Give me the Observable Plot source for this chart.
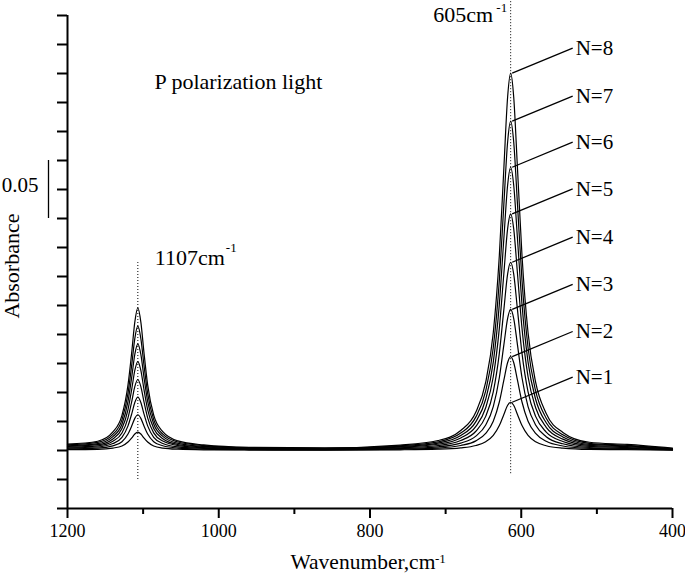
<!DOCTYPE html>
<html><head><meta charset="utf-8">
<script src="https://cdn.jsdelivr.net/npm/d3@7"></script>
<script src="https://cdn.jsdelivr.net/npm/@observablehq/plot@0.6"></script>
<style>
html,body{margin:0;padding:0;background:#fff;}
#chart svg{display:block;}
#chart svg, #chart svg text{font-family:"Liberation Serif","Times New Roman",serif !important;}
</style>
</head><body><div id="chart"></div>
<script>
// Wavenumber grid (cm-1) shared by all spectra
const wavenumbers = [1200, 1160, 1140, 1128, 1120, 1115, 1111, 1107, 1103, 1099, 1094, 1086, 1074, 1054, 1020, 960, 860, 760, 710, 680, 660, 647, 637, 629, 623, 618, 614, 610, 605, 599, 591, 581, 567, 545, 510, 460, 400];
const seriesNames = ["N=1", "N=2", "N=3", "N=4", "N=5", "N=6", "N=7", "N=8"];
// Absorbance values
const absN1 = [0.0007, 0.0010, 0.0021, 0.0039, 0.0073, 0.0109, 0.0142, 0.0158, 0.0142, 0.0109, 0.0073, 0.0039, 0.0021, 0.0011, 0.0006, 0.0004, 0.0003, 0.0006, 0.0011, 0.0022, 0.0043, 0.0076, 0.0130, 0.0215, 0.0311, 0.0390, 0.0416, 0.0390, 0.0311, 0.0215, 0.0130, 0.0075, 0.0041, 0.0020, 0.0009, 0.0007, 0.0002];
const absN2 = [0.0014, 0.0020, 0.0040, 0.0076, 0.0142, 0.0213, 0.0277, 0.0308, 0.0277, 0.0213, 0.0142, 0.0076, 0.0041, 0.0021, 0.0012, 0.0007, 0.0005, 0.0012, 0.0021, 0.0043, 0.0083, 0.0147, 0.0253, 0.0418, 0.0606, 0.0759, 0.0810, 0.0759, 0.0606, 0.0418, 0.0253, 0.0147, 0.0079, 0.0039, 0.0018, 0.0013, 0.0005];
const absN3 = [0.0021, 0.0030, 0.0060, 0.0113, 0.0212, 0.0318, 0.0414, 0.0460, 0.0414, 0.0318, 0.0212, 0.0114, 0.0061, 0.0031, 0.0018, 0.0010, 0.0008, 0.0017, 0.0032, 0.0064, 0.0124, 0.0220, 0.0379, 0.0627, 0.0910, 0.1140, 0.1216, 0.1140, 0.0910, 0.0627, 0.0379, 0.0220, 0.0119, 0.0058, 0.0026, 0.0019, 0.0007];
const absN4 = [0.0028, 0.0040, 0.0080, 0.0151, 0.0282, 0.0424, 0.0551, 0.0612, 0.0551, 0.0424, 0.0282, 0.0152, 0.0081, 0.0042, 0.0024, 0.0014, 0.0011, 0.0023, 0.0043, 0.0086, 0.0166, 0.0294, 0.0506, 0.0837, 0.1214, 0.1522, 0.1623, 0.1522, 0.1214, 0.0837, 0.0506, 0.0294, 0.0159, 0.0078, 0.0035, 0.0026, 0.0010];
const absN5 = [0.0035, 0.0050, 0.0100, 0.0189, 0.0353, 0.0531, 0.0690, 0.0767, 0.0690, 0.0531, 0.0353, 0.0190, 0.0102, 0.0052, 0.0030, 0.0017, 0.0014, 0.0029, 0.0054, 0.0108, 0.0208, 0.0369, 0.0636, 0.1053, 0.1526, 0.1913, 0.2040, 0.1913, 0.1526, 0.1053, 0.0636, 0.0369, 0.0200, 0.0098, 0.0044, 0.0033, 0.0012];
const absN6 = [0.0041, 0.0060, 0.0120, 0.0226, 0.0423, 0.0637, 0.0828, 0.0920, 0.0828, 0.0637, 0.0423, 0.0228, 0.0122, 0.0062, 0.0036, 0.0021, 0.0016, 0.0035, 0.0064, 0.0129, 0.0249, 0.0442, 0.0762, 0.1260, 0.1827, 0.2289, 0.2442, 0.2289, 0.1827, 0.1260, 0.0762, 0.0442, 0.0239, 0.0117, 0.0053, 0.0039, 0.0015];
const absN7 = [0.0048, 0.0070, 0.0139, 0.0264, 0.0493, 0.0742, 0.0965, 0.1072, 0.0965, 0.0742, 0.0493, 0.0266, 0.0141, 0.0073, 0.0042, 0.0024, 0.0019, 0.0041, 0.0075, 0.0150, 0.0290, 0.0514, 0.0886, 0.1465, 0.2124, 0.2662, 0.2839, 0.2662, 0.2124, 0.1465, 0.0886, 0.0514, 0.0278, 0.0136, 0.0062, 0.0045, 0.0017];
const absN8 = [0.0055, 0.0080, 0.0160, 0.0303, 0.0566, 0.0851, 0.1107, 0.1230, 0.1107, 0.0851, 0.0566, 0.0305, 0.0163, 0.0083, 0.0048, 0.0027, 0.0022, 0.0047, 0.0086, 0.0172, 0.0332, 0.0589, 0.1015, 0.1679, 0.2433, 0.3050, 0.3253, 0.3050, 0.2433, 0.1679, 0.1015, 0.0589, 0.0319, 0.0156, 0.0071, 0.0052, 0.0020];
const peakCenters = [1107, 614];
const xMajorTicks = [1200, 1000, 800, 600, 400];
const xMinorTicks = [1100, 900, 700, 500];
const yTicks = [-0.05, -0.025, 0, 0.025, 0.05, 0.075, 0.1, 0.125, 0.15, 0.175, 0.2, 0.225, 0.25, 0.275, 0.3, 0.325, 0.35, 0.375];
const scaleBarValue = 0.05;

const series = [absN1, absN2, absN3, absN4, absN5, absN6, absN7, absN8];
const rows = series.flatMap((vals, i) => vals.map((v, j) => ({wn: wavenumbers[j], a: v, n: seriesNames[i]})));
const peakIdx = wavenumbers.indexOf(peakCenters[1]);
const labels = series.map((vals, i) => ({n: seriesNames[i], peak: vals[peakIdx]}));

const font = "Liberation Serif";
const lead = 0.0216;
const T = {fill: "#000", fontFamily: font};

const chart = Plot.plot({
  width: 685, height: 582,
  marginLeft: 67, marginRight: 13, marginTop: 15, marginBottom: 74,
  style: {fontFamily: font, background: "white", color: "black", overflow: "visible"},
  x: {domain: [1200, 400]},
  y: {domain: [-0.05, 0.375]},
  marks: [
    Plot.line(rows, {x: "wn", y: "a", z: "n", curve: "monotone-x", stroke: "#000", strokeWidth: 1.2}),
    Plot.ruleX([peakCenters[0]], {y1: -0.025, y2: 0.162, stroke: "#000", strokeWidth: 1, strokeDasharray: "1,2"}),
    Plot.ruleX([peakCenters[1]], {y1: -0.02, y2: 0.388, stroke: "#000", strokeWidth: 1, strokeDasharray: "1,2"}),
    Plot.link(labels, {x1: 612, y1: "peak", x2: 532, y2: d => d.peak + lead, stroke: "#000", strokeWidth: 1.3}),
    Plot.text(labels, {x: 528, y: d => d.peak + lead, text: "n", textAnchor: "start", fontSize: 21, ...T}),
    Plot.ruleX([1200], {stroke: "#000", strokeWidth: 2}),
    Plot.ruleY([-0.05], {stroke: "#000", strokeWidth: 2}),
    Plot.axisX({ticks: xMajorTicks, tickSize: 10, tickPadding: 6, fontSize: 18, strokeWidth: 2, label: null, tickFormat: d => String(d), ...T}),
    Plot.axisX({ticks: xMinorTicks, tickSize: 6, strokeWidth: 2, label: null, tickFormat: () => ""}),
    Plot.axisY({ticks: yTicks, tickSize: 10, strokeWidth: 2, label: null, tickFormat: () => ""}),
    // scale bar
    Plot.ruleX([1200], {dx: -19, y1: 0.2, y2: 0.2 + scaleBarValue, stroke: "#000", strokeWidth: 1.3}),
    Plot.text([String(scaleBarValue)], {x: 1200, dx: -29, y: 0.2284, textAnchor: "end", fontSize: 21, ...T}),
    // annotations
    Plot.text(["Absorbance"], {x: 1200, dx: -55.5, y: 0.159, rotate: -90, fontSize: 22, ...T}),
    Plot.text(["P polarization light"], {x: 1085, y: 0.3177, textAnchor: "start", fontSize: 22, ...T}),
    Plot.text([peakCenters[0] + "cm"], {x: peakCenters[0], dx: 17, y: 0.166, textAnchor: "start", fontSize: 22, ...T}),
    Plot.text(["-1"], {x: peakCenters[0], dx: 88, y: 0.175, textAnchor: "start", fontSize: 13, ...T}),
    Plot.text(["605cm"], {x: peakCenters[1], dx: -17.6, y: 0.3757, textAnchor: "end", fontSize: 22, ...T}),
    Plot.text(["-1"], {x: peakCenters[1], dx: -14.3, y: 0.3816, textAnchor: "start", fontSize: 13, ...T}),
    Plot.text(["Wavenumber,cm"], {frameAnchor: "bottom", dx: -79.5, dy: 60, textAnchor: "start", fontSize: 21.5, ...T}),
    Plot.text(["-1"], {frameAnchor: "bottom", dx: 65, dy: 54, textAnchor: "start", fontSize: 13, ...T})
  ]
});
document.getElementById("chart").appendChild(chart);
</script>
</body></html>
